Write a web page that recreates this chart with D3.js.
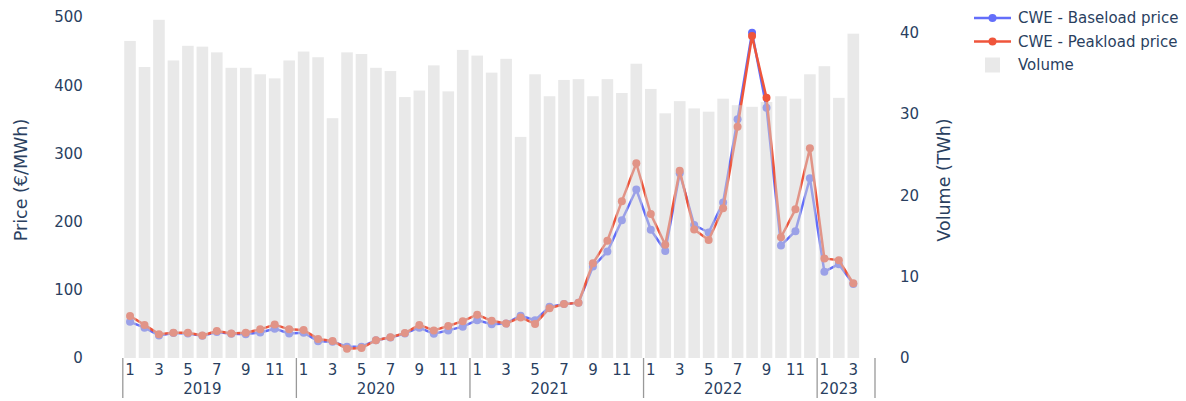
<!DOCTYPE html>
<meta charset="utf-8">
<script src="https://d3js.org/d3.v7.min.js"></script>
<style>
  body { margin: 0; background: #fff; }
  text { font-family: "DejaVu Sans", Verdana, sans-serif; fill: #2a3f5f; }
</style>
<body>
<div id="chart"></div>
<script>
// months Jan 2019 .. Apr 2023 (Apr 2023 has no data)
const years = [2019, 2020, 2021, 2022, 2023];
const monthsPerYear = [12, 12, 12, 12, 4];

// CWE baseload price (EUR/MWh)
const baseload = [53, 44.5, 33, 36.5, 36, 32.5, 38, 35.5, 35, 37.5, 43, 36,
  37, 24.5, 24, 16.5, 16.5, 26, 30, 36, 44.5, 35.5, 40.5, 46,
  55.5, 49.5, 50.5, 62, 55.5, 75, 79, 81, 134, 156, 202, 247,
  188, 157, 271, 195, 184, 228, 350, 477, 367, 165, 186, 263.5,
  126.5, 137.5, 108.5, null];

// CWE peakload price (EUR/MWh)
const peakload = [61.5, 48.5, 35, 37, 37, 33, 39.5, 36, 37, 42, 49, 42,
  41, 28, 25, 13.5, 14.5, 26, 30.5, 36.5, 48.5, 40.5, 47, 54,
  63.5, 54.5, 50.5, 59.5, 50, 73, 79, 81, 139, 172, 230, 285.5,
  211, 166, 274.5, 188.5, 173, 219.5, 339, 472, 381.5, 177, 218, 307.5,
  146, 143.5, 109.5, null];

// Volume (TWh)
const volume = [39, 35.8, 41.6, 36.6, 38.4, 38.3, 37.6, 35.7, 35.7, 34.9, 34.4, 36.6,
  37.7, 37, 29.5, 37.6, 37.4, 35.7, 35.3, 32.1, 32.9, 36, 32.8, 37.9,
  37.2, 35.1, 36.8, 27.2, 34.9, 32.2, 34.2, 34.3, 32.2, 34.3, 32.6, 36.2,
  33.1, 30.1, 31.6, 30.7, 30.3, 31.9, 31.1, 30.9, 31.5, 32.2, 31.9, 34.9,
  35.9, 32, 39.9, null];

const priceTicks = [0, 100, 200, 300, 400, 500];
const volumeTicks = [0, 10, 20, 30, 40];

// category list
const cats = [];
years.forEach((yr, i) => {
  for (let m = 1; m <= monthsPerYear[i]; m++) cats.push({key: yr + "-" + m, year: yr, month: m});
});
const data = cats.map((c, i) => ({
  ...c, base: baseload[i], peak: peakload[i], vol: volume[i]
}));

const W = 1186, H = 401;
const margin = {top: 17, right: 311, bottom: 43, left: 122.8};
const width = W - margin.left - margin.right,
      height = H - margin.top - margin.bottom;

const svg = d3.select("#chart").append("svg")
  .attr("width", W).attr("height", H);
const g = svg.append("g")
  .attr("transform", `translate(${margin.left},${margin.top})`);

const x = d3.scaleBand()
  .domain(cats.map(c => c.key))
  .range([0, width])
  .paddingInner(0.2)
  .paddingOuter(0.1);

const y = d3.scaleLinear().domain([0, 500]).range([height, 0]);
const y2 = d3.scaleLinear().domain([0, 41.95]).range([height, 0]);

const cx = d => x(d.key) + x.bandwidth() / 2;

// left axis
g.append("g")
  .call(d3.axisLeft(y).tickValues(priceTicks).tickSize(0).tickPadding(40))
  .call(a => a.select(".domain").remove())
  .selectAll("text").style("font-size", "15px").attr("fill", "#2a3f5f")
  .style("font-family", "DejaVu Sans");

// right axis
g.append("g")
  .attr("transform", `translate(${width},0)`)
  .call(d3.axisRight(y2).tickValues(volumeTicks).tickSize(0).tickPadding(25))
  .call(a => a.select(".domain").remove())
  .selectAll("text").style("font-size", "15px").attr("fill", "#2a3f5f")
  .style("font-family", "DejaVu Sans");

// month labels (odd months)
g.append("g")
  .attr("transform", `translate(0,${height})`)
  .call(d3.axisBottom(x)
    .tickValues(cats.filter(c => c.month % 2 === 1).map(c => c.key))
    .tickFormat(k => k.split("-")[1])
    .tickSize(0).tickPadding(6))
  .call(a => a.select(".domain").remove())
  .selectAll("text").style("font-size", "15px").attr("fill", "#2a3f5f")
  .style("font-family", "DejaVu Sans");

// year group labels and dividers
const half = (x.step() - x.bandwidth()) / 2;
let start = 0;
years.forEach((yr, i) => {
  const n = monthsPerYear[i];
  const first = cats[start], mid = cats[start + Math.floor((n - 1) / 2)];
  g.append("line")
    .attr("x1", x(first.key) - half).attr("x2", x(first.key) - half)
    .attr("y1", height).attr("y2", height + 40)
    .attr("stroke", "#999").attr("stroke-width", 1.3);
  g.append("text")
    .attr("x", x(mid.key) + x.bandwidth() / 2)
    .attr("y", height + 31).attr("dy", "0.35em")
    .attr("text-anchor", "middle")
    .style("font-size", "15px")
    .text(yr);
  start += n;
});
g.append("line")
  .attr("x1", width).attr("x2", width)
  .attr("y1", height).attr("y2", height + 40)
  .attr("stroke", "#999").attr("stroke-width", 1.3);

// price lines
const series = [
  {name: "CWE - Baseload price", key: "base", color: "#636efa"},
  {name: "CWE - Peakload price", key: "peak", color: "#EF553B"}
];
series.forEach(s => {
  const line = d3.line()
    .defined(d => d[s.key] != null)
    .x(cx).y(d => y(d[s.key]));
  g.append("path")
    .datum(data)
    .attr("fill", "none")
    .attr("stroke", s.color)
    .attr("stroke-width", 2.5)
    .attr("stroke-linejoin", "round")
    .attr("d", line);
  g.selectAll(null)
    .data(data.filter(d => d[s.key] != null))
    .join("circle")
    .attr("cx", cx).attr("cy", d => y(d[s.key]))
    .attr("r", 4)
    .attr("fill", s.color);
});

// volume bars (overlaid, semi transparent)
g.selectAll(".bar")
  .data(data.filter(d => d.vol != null))
  .join("rect")
  .attr("class", "bar")
  .attr("x", d => x(d.key))
  .attr("width", x.bandwidth())
  .attr("y", d => y2(d.vol))
  .attr("height", d => height - y2(d.vol))
  .attr("fill", "#d3d3d3")
  .attr("fill-opacity", 0.5);

// axis titles
svg.append("text")
  .attr("transform", "translate(20.5,180) rotate(-90)")
  .attr("text-anchor", "middle").attr("dy", "0.35em")
  .style("font-size", "17.5px")
  .text("Price (€/MWh)");
svg.append("text")
  .attr("transform", "translate(944,180) rotate(-90)")
  .attr("text-anchor", "middle").attr("dy", "0.35em")
  .style("font-size", "17.5px")
  .text("Volume (TWh)");

// legend
const legend = svg.append("g").attr("transform", "translate(974,18)");
series.forEach((s, i) => {
  const row = legend.append("g").attr("transform", `translate(0,${i * 23.5})`);
  row.append("line").attr("x1", 0).attr("x2", 37)
    .attr("stroke", s.color).attr("stroke-width", 2.5);
  row.append("circle").attr("cx", 18.5).attr("r", 4).attr("fill", s.color);
  row.append("text").attr("x", 44).attr("dy", "0.35em")
    .style("font-size", "15px").text(s.name);
});
const vrow = legend.append("g").attr("transform", "translate(0,47)");
vrow.append("rect").attr("x", 11).attr("y", -7.5).attr("width", 15).attr("height", 15)
  .attr("fill", "#d3d3d3").attr("fill-opacity", 0.5);
vrow.append("text").attr("x", 44).attr("dy", "0.35em")
  .style("font-size", "15px").text("Volume");
</script>
</body>
